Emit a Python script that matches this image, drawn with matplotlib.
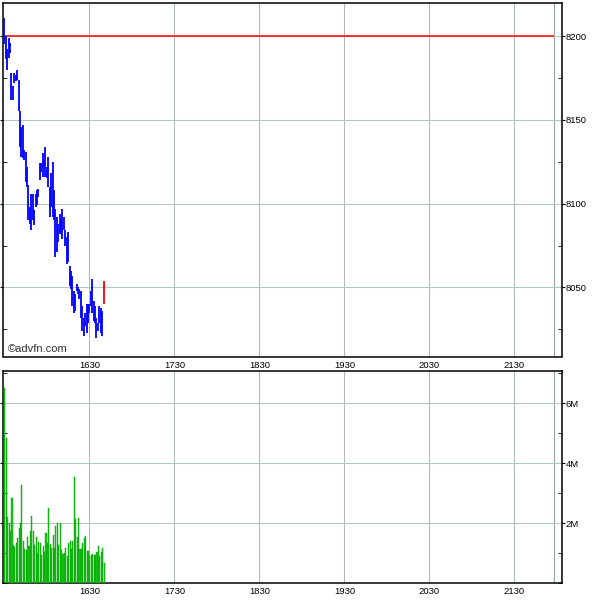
import matplotlib
matplotlib.use("Agg")
import matplotlib.pyplot as plt
from matplotlib.ticker import FixedLocator, MultipleLocator

plt.rcParams['font.family'] = ['Liberation Sans', 'DejaVu Sans']

# ---- data ----
start_time = "1530"
highs = [8211, 8200, 8192, 8199, 8196, 8178, 8170, 8178, 8177, 8180,
         8174, 8155, 8146, 8147, 8132, 8131, 8122, 8111, 8098, 8106,
         8106, 8096, 8106, 8108, 8109, 8124, 8124, 8130, 8126, 8134,
         8122, 8128, 8110, 8118, 8125, 8108, 8097, 8092, 8088, 8094,
         8090, 8097, 8092, 8084, 8080, 8083, 8063, 8060, 8057, 8048,
         8046, 8052, 8050, 8049, 8048, 8039, 8032, 8035, 8040, 8040,
         8040, 8048, 8055, 8042, 8039, 8032, 8029, 8039, 8038, 8036,
         8054]
lows = [8195, 8186, 8180, 8187, 8190, 8162, 8162, 8172, 8173, 8174,
        8155, 8134, 8128, 8127, 8126, 8113, 8110, 8090, 8088, 8084,
        8090, 8087, 8098, 8099, 8104, 8114, 8119, 8116, 8122, 8116,
        8115, 8110, 8092, 8098, 8092, 8090, 8068, 8071, 8077, 8082,
        8083, 8079, 8084, 8075, 8064, 8065, 8051, 8049, 8039, 8035,
        8036, 8048, 8046, 8043, 8032, 8024, 8021, 8027, 8023, 8029,
        8035, 8039, 8035, 8030, 8029, 8020, 8024, 8029, 8023, 8021,
        8040]
volume_m = [6.5, 4.83, 2.2, 2.0, 1.73, 2.83, 1.27, 1.2, 1.33, 1.5,
            1.83, 2.0, 3.27, 1.4, 1.13, 1.1, 1.53, 1.23, 1.73, 2.23,
            1.73, 1.27, 1.53, 1.0, 1.37, 1.33, 0.93, 1.23, 1.03, 1.67,
            1.33, 2.5, 1.3, 1.17, 1.6, 1.17, 1.9, 2.0, 1.27, 2.0,
            1.1, 0.97, 1.0, 1.17, 0.9, 1.33, 1.4, 1.13, 1.4, 3.53,
            2.13, 1.53, 2.17, 1.13, 1.13, 1.33, 1.5, 1.57, 1.07, 1.07,
            0.9, 0.93, 0.97, 0.93, 0.93, 1.03, 1.23, 0.9, 1.03, 1.17,
            0.67]
ref_level = 8200
session_end = "2158"
x_tick_labels = ["1630", "1730", "1830", "1930", "2030", "2130"]
price_ticks = [8050, 8100, 8150, 8200]
vol_ticks_m = [2, 4, 6]


def to_min(s):
    return int(s[:2]) * 60 + int(s[2:])


t0 = to_min(start_time)
times = [t0 + i for i in range(len(highs))]
xticks = [to_min(s) for s in x_tick_labels]
t_end = to_min(session_end)

vgrid = dict(color='#b0b8b8', lw=0.75, ls='-', zorder=0)
hgrid = dict(color='#b2c6c6', lw=0.75, ls='-', zorder=0)

fig = plt.figure(figsize=(6, 6), dpi=100)
fig.patch.set_facecolor('white')
ax1 = fig.add_axes([3/600, 1 - 356.5/600, 559/600, 353.5/600])
ax2 = fig.add_axes([3/600, 1 - 583/600, 559/600, 212.5/600])

xlim = (t0 - 1, t0 + 393.6)

for ax in (ax1, ax2):
    ax.set_xlim(*xlim)
    ax.xaxis.set_major_locator(FixedLocator(xticks))
    ax.set_xticklabels(x_tick_labels)
    ax.tick_params(axis='x', length=0, labelsize=6.8, pad=3)
    for x in xticks:
        ax.axvline(x, **vgrid)
    ax.axvline(t_end, color='#98a4a4', lw=0.8, ls='-', zorder=0)
    for sp in ax.spines.values():
        sp.set_linewidth(1.1)
        sp.set_color('black')
    ax.yaxis.tick_right()
    ax.tick_params(axis='y', which='major', direction='out', length=2,
                   labelsize=6.8, pad=0.8, left=True, right=True)
    ax.tick_params(axis='y', which='minor', direction='in', length=3,
                   left=True, right=True)

# ---- price panel ----
ax1.set_ylim(8008.8, 8219.7)
ax1.yaxis.set_major_locator(FixedLocator(price_ticks))
ax1.yaxis.set_minor_locator(MultipleLocator(25))
ax1.set_yticklabels([str(v) for v in price_ticks])
for y in price_ticks:
    ax1.axhline(y, **hgrid)
ax1.hlines(ref_level, xlim[0], t_end, color='red', lw=1.1, zorder=2)
ax1.vlines(times[:-1], lows[:-1], highs[:-1], color='#0000ff', lw=1.3, zorder=3)
ax1.vlines(times[-1:], lows[-1:], highs[-1:], color='#ff0000', lw=1.3, zorder=3)
ax1.text(5/559, 3/353.5, '\u00a9advfn.com', transform=ax1.transAxes,
         fontsize=8, color='#333333', ha='left', va='bottom')

# ---- volume panel ----
ax2.set_ylim(0, 7.1)
ax2.yaxis.set_major_locator(FixedLocator(vol_ticks_m))
ax2.yaxis.set_minor_locator(MultipleLocator(1))
ax2.set_yticklabels([f"{v}M" for v in vol_ticks_m])
for y in vol_ticks_m:
    ax2.axhline(y, **hgrid)
ax2.bar(times, volume_m, width=0.75, color='#11cc11', edgecolor='#0a9a0a',
        linewidth=0.3, align='edge', zorder=3)

fig.savefig('out.png', dpi=100, facecolor='white')
